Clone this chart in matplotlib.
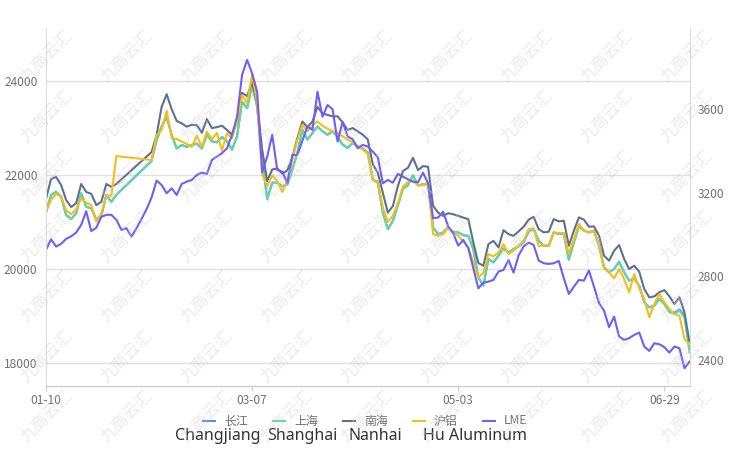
import numpy as np
import matplotlib
matplotlib.use("Agg")
import matplotlib.pyplot as plt
from matplotlib.lines import Line2D

plt.rcParams["font.family"] = ["Noto Sans CJK SC", "DejaVu Sans"]

nan = np.nan

# category axis: one point per trading day, labels shown every 41 days
tick_labels = ["01-10", "03-07", "05-03", "06-29"]
tick_index = [0, 41, 82, 123]

series_names = ["长江", "上海", "南海", "沪铝", "LME"]
english_names = ["Changjiang", "Shanghai", "Nanhai", "Hu Aluminum"]

# yuan/t, left axis
nanhai = [
    21490, 21915, 21960, 21790, 21470, 21320, 21400, 21810, 21640, 21600,
    21360, 21430, 21810, 21750, 21810, nan, nan, nan, nan, nan,
    nan, 22490, 22850, 23450, 23720, 23400, 23150, 23100, 23030, 23070,
    23060, 22900, 23190, 23000, 23020, 23050, 22960, 22860, 23140, 23750,
    23680, 23980, 23530, 22540, 21870, 22120, 22140, 22030, 22100, 22370,
    22790, 23140, 23020, 23140, 23450, 23310, 23280, 23250, 23250, 23120,
    22960, 23000, 22930, 22860, 22760, 22230, 22050, 21620, 21200, 21340,
    21770, 22085, 22155, 22367, 22106, 22190, 22177, 21343, 21200, 21130,
    21187, 21166, 21130, 21095, 21060, 20565, 20127, 20070, 20530, 20600,
    20459, 20827, 20742, 20707, 20800, 20900, 21050, 21110, 20850, 20780,
    20794, 21064, 21014, 21028, 20496, 20816, 21099, 21050, 20900, 20908,
    20709, 20284, 20177, 20390, 20510, 20213, 20000, 20071, 19943, 19574,
    19397, 19418, 19504, 19553, 19418, 19255, 19397, 19078, 18440,
]

shanghai = [
    21200, 21575, 21645, 21540, 21150, 21065, 21185, 21610, 21325, 21290,
    21055, 21130, 21575, 21430, 21580, nan, nan, nan, nan, nan,
    nan, 22300, 22745, 23030, 23245, 22850, 22565, 22640, 22600, 22640,
    22670, 22565, 22860, 22718, 22697, 22810, 22718, 22542, 22824, 23563,
    23423, 23915, 23458, 22331, 21486, 21838, 21838, 21760, 21800, 22120,
    22472, 22965, 22754, 22894, 23035, 22930, 22859, 22930, 22810, 22648,
    22577, 22683, 22613, 22563, 22480, 21908, 21837, 21200, 20848, 21025,
    21357, 21710, 21781, 21993, 21781, 21802, 21802, 20883, 20742, 20777,
    20883, 20791, 20777, 20720, 20706, 20424, 19823, 19647, 20212, 20141,
    20283, 20438, 20353, 20424, 20480, 20565, 20800, 20851, 20603, 20496,
    20496, 20780, 20745, 20745, 20199, 20567, 20908, 20816, 20780, 20816,
    20496, 20035, 19929, 20000, 20156, 19929, 19752, 19801, 19645, 19291,
    19184, 19220, 19362, 19255, 19078, 19043, 19113, 18972, 18227,
]

changjiang = [
    21200, 21575, 21645, 21540, 21150, 21065, 21185, 21610, 21325, 21290,
    21055, 21130, 21575, 21430, 21580, nan, nan, nan, nan, nan,
    nan, 22300, 22745, 23030, 23245, 22850, 22565, 22640, 22600, 22640,
    22670, 22565, 22860, 22718, 22697, 22810, 22718, 22542, 22824, 23563,
    23423, 23915, 23458, 22331, 21486, 21838, 21838, 21760, 21800, 22120,
    22472, 22965, 22754, 22894, 23035, 22930, 22859, 22930, 22810, 22648,
    22577, 22683, 22613, 22563, 22480, 21908, 21837, 21200, 20848, 21025,
    21357, 21710, 21781, 21993, 21781, 21802, 21802, 20883, 20742, 20777,
    20883, 20791, 20777, 20720, 20706, 20424, 19823, 19647, 20212, 20141,
    20283, 20438, 20353, 20424, 20480, 20565, 20800, 20851, 20603, 20496,
    20496, 20780, 20745, 20745, 20199, 20567, 20908, 20816, 20780, 20816,
    20496, 20035, 19929, 20000, 20156, 19929, 19752, 19801, 19645, 19291,
    19184, 19220, 19362, 19255, 19100, 19070, 19140, 19010, 18290,
]

hu_aluminum = [
    21220, 21470, 21600, 21540, 21255, 21165, 21270, 21505, 21410, 21360,
    21010, 21185, 21570, 21560, 22405, nan, nan, nan, nan, nan,
    nan, 22320, 22850, 22960, 23370, 22785, 22765, 22715, 22660, 22600,
    22835, 22600, 22920, 22760, 22900, 22520, 22890, 22780, 23150, 23700,
    23528, 24148, 23528, 22014, 21768, 21993, 21873, 21641, 21873, 22331,
    22754, 23070, 22930, 23049, 23141, 23049, 22986, 22930, 22894, 22824,
    22754, 22697, 22613, 22542, 22450, 21894, 21873, 21307, 21000, 21131,
    21413, 21753, 21852, 21873, 21781, 21781, 21837, 20742, 20706, 20742,
    20883, 20777, 20706, 20580, 20459, 20141, 19823, 19915, 20318, 20268,
    20353, 20530, 20318, 20388, 20500, 20600, 20850, 20865, 20482, 20510,
    20496, 20780, 20766, 20766, 20319, 20638, 20957, 20816, 20780, 20816,
    20496, 20014, 19929, 19801, 20000, 19787, 19504, 19894, 19589, 19362,
    18972, 19255, 19468, 19291, 19149, 19043, 19007, 18511, 18404,
]

# USD/t, right axis
lme = [
    2927, 2978, 2943, 2956, 2980, 2992, 3010, 3047, 3112, 3017,
    3033, 3085, 3095, 3095, 3071, 3023, 3031, 2991, 3031, 3075,
    3122, 3178, 3259, 3238, 3198, 3222, 3190, 3243, 3254, 3262,
    3286, 3297, 3291, 3358, 3374, 3390, 3414, 3478, 3565, 3765,
    3837, 3773, 3685, 3300, 3374, 3478, 3310, 3302, 3246, 3382,
    3382, 3450, 3518, 3502, 3685, 3565, 3621, 3601, 3446, 3541,
    3470, 3457, 3414, 3430, 3422, 3398, 3371, 3246, 3262, 3249,
    3291, 3278, 3265, 3254, 3251, 3297, 3246, 3079, 3082, 3110,
    3039, 3007, 2947, 2975, 2935, 2839, 2743, 2770, 2775, 2783,
    2823, 2831, 2879, 2818, 2900, 2943, 2962, 2951, 2876, 2863,
    2860, 2863, 2874, 2791, 2716, 2751, 2783, 2780, 2828, 2751,
    2672, 2636, 2557, 2607, 2512, 2496, 2504, 2520, 2531, 2464,
    2443, 2480, 2475, 2461, 2435, 2464, 2456, 2360, 2392,
]

colors = ["#5B8FF9", "#5AD8A6", "#5D7092", "#F6BD16", "#6F5EF9"]

W, H = 733, 458


def fx(px):
    return px / W


def fy(py):
    return 1 - py / H


fig = plt.figure(figsize=(W / 100, H / 100), dpi=100)
ax = fig.add_axes([fx(46), fy(386), fx(689.5) - fx(46), fy(28) - fy(386)])
ax2 = ax.twinx()

x = np.arange(len(nanhai))
for vals, color in zip([changjiang, shanghai, nanhai, hu_aluminum], colors[:4]):
    v = np.asarray(vals, dtype=float)
    ok = np.isfinite(v)  # gaps are bridged, as connectNulls does
    ax.plot(x[ok], v[ok], color=color, lw=1.5)
ax2.plot(x, lme, color=colors[4], lw=1.5)

ax.set_xlim(0, len(nanhai) - 1)
ax.set_ylim(17510, 25130)
ax2.set_ylim(2275, 3990)

grid_c = "#E0E0E0"
label_c = "#6E7079"
ax.set_yticks([18000, 20000, 22000, 24000])
ax2.set_yticks([2400, 2800, 3200, 3600])
ax.set_xticks(tick_index, tick_labels)
ax.yaxis.grid(True, color=grid_c, lw=1)
ax.set_axisbelow(True)

for a in (ax, ax2):
    a.spines["top"].set_visible(False)
    a.spines["left"].set_color("#DDDDDD")
    a.spines["right"].set_color("#DDDDDD")
    a.spines["bottom"].set_color("#CCCCCC")
ax.tick_params(axis="y", length=0, pad=6, labelsize=8.6, labelcolor=label_c)
ax2.tick_params(axis="y", length=0, pad=6, labelsize=8.6, labelcolor=label_c)
ax.tick_params(axis="x", length=3.6, color="#CCCCCC", pad=2, labelsize=8.6,
               labelcolor=label_c)

# legend, drawn by hand to sit like the original
leg_y = 421
for k, (name, color) in enumerate(zip(series_names, colors)):
    x0 = 203 + 70 * k
    fig.add_artist(Line2D([fx(x0), fx(x0 + 12)], [fy(leg_y), fy(leg_y)],
                          color=color, lw=1.5, transform=fig.transFigure))
    fig.text(fx(x0 + 21), fy(leg_y), name, fontsize=8.6, color="#6E6E6E",
             ha="left", va="center")

for name, left in zip(english_names, [175, 267, 348, 423]):
    fig.text(fx(left), fy(436), name, fontsize=11.5, color="#333333",
             ha="left", va="center", family=["Noto Sans", "DejaVu Sans"])

# watermark, only the copies that fit fully inside the canvas
for wx in np.arange(46.7, W - 24, 80):
    for wy in np.arange(56.7, H - 24, 60):
        fig.text(fx(wx), fy(wy), "九商云汇", fontsize=12, color="#CCCCCC",
                 alpha=0.4, rotation=45, ha="center", va="center", zorder=10)

fig.savefig("out.png", dpi=100)
